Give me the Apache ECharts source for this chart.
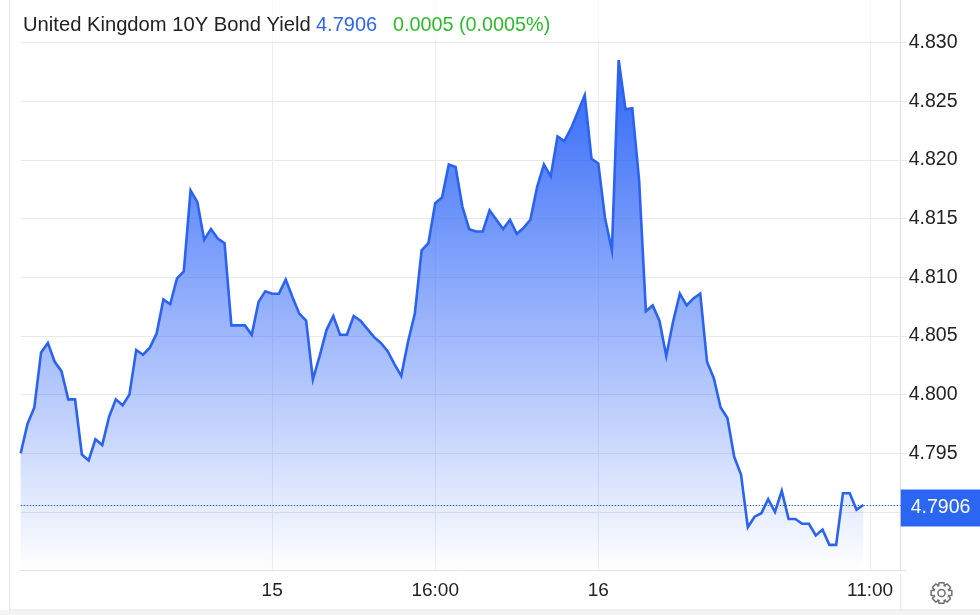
<!DOCTYPE html>
<html><head><meta charset="utf-8">
<style>html,body{margin:0;padding:0;background:#fff}#c{width:980px;height:615px}</style>
<script src="https://cdn.jsdelivr.net/npm/echarts@6/dist/echarts.min.js"></script>
</head><body><div id="c"></div>
<script>
const titleName = "United Kingdom 10Y Bond Yield";
const priceText = "4.7906";
const changeText = "0.0005 (0.0005%)";
const yields = [
4.7950,4.7975,4.7989,4.8036,4.8044,4.8028,4.8020,4.7996,4.7996,4.7949,
4.7944,4.7962,4.7957,4.7981,4.7996,4.7991,4.8000,4.8038,4.8034,4.8040,
4.8052,4.8081,4.8077,4.8099,4.8105,4.8174,4.8164,4.8132,4.8141,4.8133,
4.8129,4.8059,4.8059,4.8059,4.8051,4.8079,4.8088,4.8086,4.8086,4.8098,
4.8083,4.8069,4.8063,4.8013,4.8033,4.8055,4.8067,4.8051,4.8051,4.8067,
4.8063,4.8056,4.8049,4.8044,4.8037,4.8026,4.8016,4.8045,4.8069,4.8123,
4.8129,4.8163,4.8168,4.8196,4.8194,4.8160,4.8141,4.8139,4.8139,4.8157,
4.8149,4.8141,4.8149,4.8137,4.8142,4.8149,4.8177,4.8196,4.8186,4.8220,
4.8216,4.8227,4.8241,4.8255,4.8201,4.8197,4.8150,4.8123,4.8285,4.8243,
4.8244,4.8183,4.8071,4.8076,4.8063,4.8033,4.8062,4.8086,4.8076,4.8082,
4.8086,4.8028,4.8014,4.7989,4.7980,4.7947,4.7932,4.7887,4.7896,4.7899,
4.7911,4.7900,4.7918,4.7894,4.7894,4.7890,4.7890,4.7880,4.7885,4.7872,
4.7872,4.7916,4.7916,4.7902,4.7906];
const xTickPositions = [37, 61, 85, 125];
const xTickLabels = ["15", "16:00", "16", "11:00"];
const yTicks = [4.790,4.795,4.800,4.805,4.810,4.815,4.820,4.825,4.830];
const yLabelTicks = [4.795,4.800,4.805,4.810,4.815,4.820,4.825,4.830];
const lastValue = yields[yields.length - 1];

const FONT = '"Liberation Sans", Arial, sans-serif';
const BLUE = '#2b63ee';

// gear icon outline
let d = '';
const cx = 12, cy = 12, teeth = 8;
for (let t = 0; t < teeth; t++) {
  const a = t / teeth * Math.PI * 2;
  const pts = [[-0.42,7.9],[-0.22,10.6],[0.22,10.6],[0.42,7.9]];
  pts.forEach((p) => {
    const ang = a + p[0], r = p[1];
    d += (d ? 'L' : 'M') + (cx + r * Math.cos(ang)).toFixed(2) + ' ' + (cy + r * Math.sin(ang)).toFixed(2);
  });
}
d += 'Z M15.6 12A3.6 3.6 0 1 1 8.4 12A3.6 3.6 0 1 1 15.6 12Z';
echarts.graphic.registerShape('gear', echarts.graphic.extendPath(d, {}));

const chart = echarts.init(document.getElementById('c'), null, {renderer:'canvas'});
chart.setOption({
  animation:false,
  backgroundColor:'#ffffff',
  grid:{left:20.7,right:79.3,top:0,bottom:44.3,containLabel:false,outerBoundsMode:'none'},
  xAxis:{
    type:'value',min:0,max:129.5,
    axisLine:{show:true,onZero:false,lineStyle:{color:'#e2e2e2',width:1}},
    axisTick:{show:false,customValues:xTickPositions},
    splitLine:{show:true,customValues:xTickPositions,lineStyle:{color:'#eceef1',width:1.2}},
    axisLabel:{show:true,customValues:xTickPositions,fontFamily:FONT,fontSize:19,color:'#222',margin:11,hideOverlap:false,
      formatter:(v)=>{const i=xTickPositions.indexOf(v);return i>=0?xTickLabels[i]:'';}}
  },
  yAxis:{
    type:'value',position:'right',min:4.785,max:4.83362,
    axisLine:{show:true,onZero:false,lineStyle:{color:'#e2e2e2',width:1}},
    axisTick:{show:true,customValues:yTicks,length:6,lineStyle:{color:'#e8e8e8'}},
    splitLine:{show:true,customValues:yTicks,lineStyle:{color:'#e9e9e9',width:1.2}},
    axisLabel:{show:true,customValues:yLabelTicks,fontFamily:FONT,fontSize:19.5,color:'#222',margin:8,
      formatter:(v)=>v.toFixed(3)}
  },
  series:[{
    type:'line',
    data:yields.map((v,i)=>[i,v]),
    showSymbol:false,symbol:'none',smooth:false,
    lineStyle:{color:BLUE,width:2.6,join:'miter'},
    areaStyle:{origin:'start',opacity:1,color:new echarts.graphic.LinearGradient(0,0,0,1,[
      {offset:0,color:'rgba(47,102,248,1)'},
      {offset:1,color:'rgba(47,102,248,0)'}])},
    markLine:{
      silent:true,symbol:'none',animation:false,precision:4,
      lineStyle:{type:[1.5,1.5],color:'#2a5be6',width:1},
      label:{show:true,position:'end',distance:0,offset:[0,3],formatter:priceText,fontFamily:FONT,fontSize:19.5,
        color:'#fff',backgroundColor:'#2b66f2',padding:[9,10,8,10]},
      data:[{yAxis:lastValue}]
    }
  }],
  graphic:[
    {type:'rect',silent:true,z:50,shape:{x:0,y:610,width:980,height:5},style:{fill:'#f4f4f4'}},
    {type:'rect',silent:true,z:50,shape:{x:11,y:0,width:888,height:41},style:{fill:'rgba(255,255,255,0.6)'}},
    {type:'line',silent:true,z:50,shape:{x1:9.5,y1:0,x2:9.5,y2:610},style:{stroke:'#e8e8e8',lineWidth:1}},
    {type:'line',silent:true,z:50,shape:{x1:9,y1:610,x2:980,y2:610},style:{stroke:'#e6e6e6',lineWidth:1}},
    {type:'line',silent:true,z:50,shape:{x1:900.7,y1:575,x2:900.7,y2:610},style:{stroke:'#e2e2e2',lineWidth:1}},
    {type:'line',silent:true,z:50,shape:{x1:900.7,y1:570.7,x2:907,y2:570.7},style:{stroke:'#e2e2e2',lineWidth:1}},
    {type:'text',z:100,x:23,y:25.5,style:{text:titleName,font:'20.2px '+FONT,fill:'#222',textVerticalAlign:'middle'}},
    {type:'text',z:100,x:316,y:25.5,style:{text:priceText,font:'20px '+FONT,fill:'#2f66e6',textVerticalAlign:'middle'}},
    {type:'text',z:100,x:393,y:25.5,style:{text:changeText,font:'19.8px '+FONT,fill:'#2fb82f',textVerticalAlign:'middle'}},
    {type:'gear',z:100,x:929.5,y:581,scaleX:1,scaleY:1,silent:true,style:{fill:'none',stroke:'#6e6e6e',lineWidth:1.5}}
  ]
});
</script></body></html>
